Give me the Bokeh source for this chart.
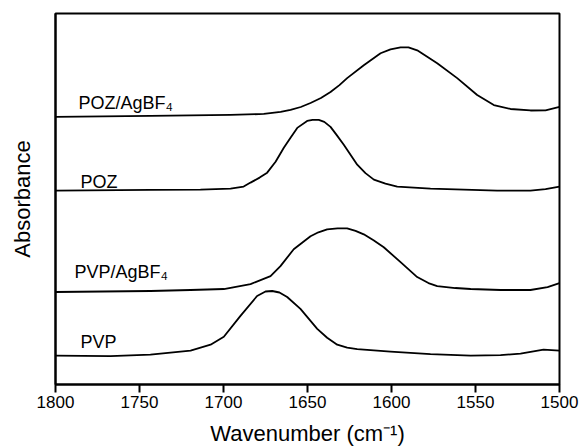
from bokeh.plotting import figure
from bokeh.models import Range1d, FixedTicker, ColumnDataSource
from bokeh.core.properties import value
from bokeh.embed import file_html
from bokeh.resources import INLINE

# ---- data (wavenumber in cm^-1, absorbance in arbitrary stacked units) ----
poz_ag_wn = [1800, 1743.5, 1695.8, 1676.0, 1666.0, 1660.1, 1654.0, 1648.2, 1642.0,
             1636.3, 1631.0, 1626.4, 1616.5, 1606.5, 1600.6, 1594.6, 1589.9, 1584.7,
             1579.2, 1572.8, 1560.9, 1549.0, 1539.1, 1529.2, 1517.3, 1508.3, 1500]
poz_ag_abs = [2.69, 2.70, 2.71, 2.72, 2.74, 2.76, 2.79, 2.83, 2.88,
              2.94, 3.01, 3.08, 3.21, 3.33, 3.37, 3.39, 3.39, 3.36,
              3.30, 3.23, 3.08, 2.91, 2.81, 2.77, 2.755, 2.757, 2.79]

poz_wn = [1800, 1743.5, 1713.7, 1695.8, 1688.0, 1683.9, 1678.5, 1674.0, 1669.0,
          1664.1, 1660.1, 1656.1, 1650.2, 1647.0, 1643.3, 1640.0, 1636.3, 1632.7,
          1628.4, 1624.4, 1620.4, 1615.5, 1610.5, 1603.6, 1596.6, 1576.8, 1537.1,
          1517.3, 1508.3, 1500]
poz_abs = [1.95, 1.957, 1.96, 1.97, 1.99, 2.03, 2.08, 2.13, 2.24,
           2.38, 2.48, 2.58, 2.65, 2.66, 2.66, 2.64, 2.59, 2.51,
           2.41, 2.31, 2.21, 2.125, 2.06, 2.02, 1.99, 1.97, 1.95,
           1.95, 1.965, 1.99]

pvp_ag_wn = [1800, 1743.5, 1719.6, 1699.8, 1683.9, 1672.0, 1666.1, 1658.2, 1648.2,
             1643.5, 1638.3, 1632.1, 1626.4, 1621.4, 1616.5, 1610.7, 1604.6, 1594.6,
             1584.7, 1578.0, 1572.8, 1562.0, 1552.9, 1535.1, 1517.3, 1507.1, 1500]
pvp_ag_abs = [0.93, 0.94, 0.95, 0.96, 1.01, 1.09, 1.19, 1.36, 1.49,
              1.53, 1.56, 1.57, 1.57, 1.545, 1.51, 1.45, 1.38, 1.23,
              1.08, 1.02, 0.99, 0.97, 0.96, 0.95, 0.95, 0.98, 1.02]

pvp_wn = [1800, 1767.3, 1743.5, 1719.6, 1707.7, 1699.8, 1689.9, 1680.0, 1675.0,
          1671.0, 1666.7, 1662.1, 1654.2, 1644.2, 1638.3, 1632.3, 1626.4, 1620.4,
          1600.6, 1576.8, 1552.9, 1535.1, 1523.2, 1509.5, 1500]
pvp_abs = [0.29, 0.285, 0.30, 0.34, 0.40, 0.48, 0.69, 0.89, 0.935,
           0.94, 0.925, 0.88, 0.76, 0.56, 0.47, 0.40, 0.37, 0.355,
           0.33, 0.305, 0.29, 0.295, 0.31, 0.35, 0.34]

label_text = ["POZ/AgBF\u2084", "POZ", "PVP/AgBF\u2084", "PVP"]
label_wn = [1786.3, 1785.1, 1788.7, 1785.1]
label_abs = [2.83, 2.04, 1.13, 0.43]

x_ticks = [1800, 1750, 1700, 1650, 1600, 1550, 1500]

FONT = "Liberation Sans"

p = figure(width=579, height=448,
           x_range=Range1d(1800, 1500), y_range=Range1d(0, 3.73),
           output_backend="svg", toolbar_location=None,
           min_border_left=55, min_border_right=20,
           min_border_top=13, min_border_bottom=62)

p.background_fill_color = "white"
p.border_fill_color = "white"
p.outline_line_color = "black"
p.outline_line_width = 2
p.xgrid.visible = False
p.ygrid.visible = False

for wn, ab in [(poz_ag_wn, poz_ag_abs), (poz_wn, poz_abs),
               (pvp_ag_wn, pvp_ag_abs), (pvp_wn, pvp_abs)]:
    p.line(wn, ab, line_color="black", line_width=1.8, line_join="round")

src = ColumnDataSource(dict(x=label_wn, y=label_abs, t=label_text))
p.text(x="x", y="y", text="t", source=src, text_font=value(FONT),
       text_font_size="18px", text_color="black",
       text_align="left", text_baseline="alphabetic")

xa = p.xaxis[0]
xa.ticker = FixedTicker(ticks=x_ticks)
xa.minor_tick_line_color = None
xa.major_tick_in = 0
xa.major_tick_out = 8
xa.major_tick_line_width = 2
xa.axis_line_width = 2
xa.major_label_text_font = FONT
xa.major_label_text_font_size = "17px"
xa.major_label_text_color = "black"
xa.major_label_standoff = 3
xa.axis_label = "Wavenumber (cm\u207b\u00b9)"
xa.axis_label_text_font = FONT
xa.axis_label_text_font_size = "22px"
xa.axis_label_text_font_style = "normal"
xa.axis_label_text_color = "black"
xa.axis_label_standoff = 10

ya = p.yaxis[0]
ya.ticker = FixedTicker(ticks=[])
ya.minor_tick_line_color = None
ya.major_tick_in = 0
ya.major_tick_out = 0
ya.axis_line_width = 2
ya.axis_label = "Absorbance"
ya.axis_label_text_font = FONT
ya.axis_label_text_font_size = "22px"
ya.axis_label_text_font_style = "normal"
ya.axis_label_text_color = "black"
ya.axis_label_standoff = 21

open("out.html", "w").write(file_html(p, INLINE))
